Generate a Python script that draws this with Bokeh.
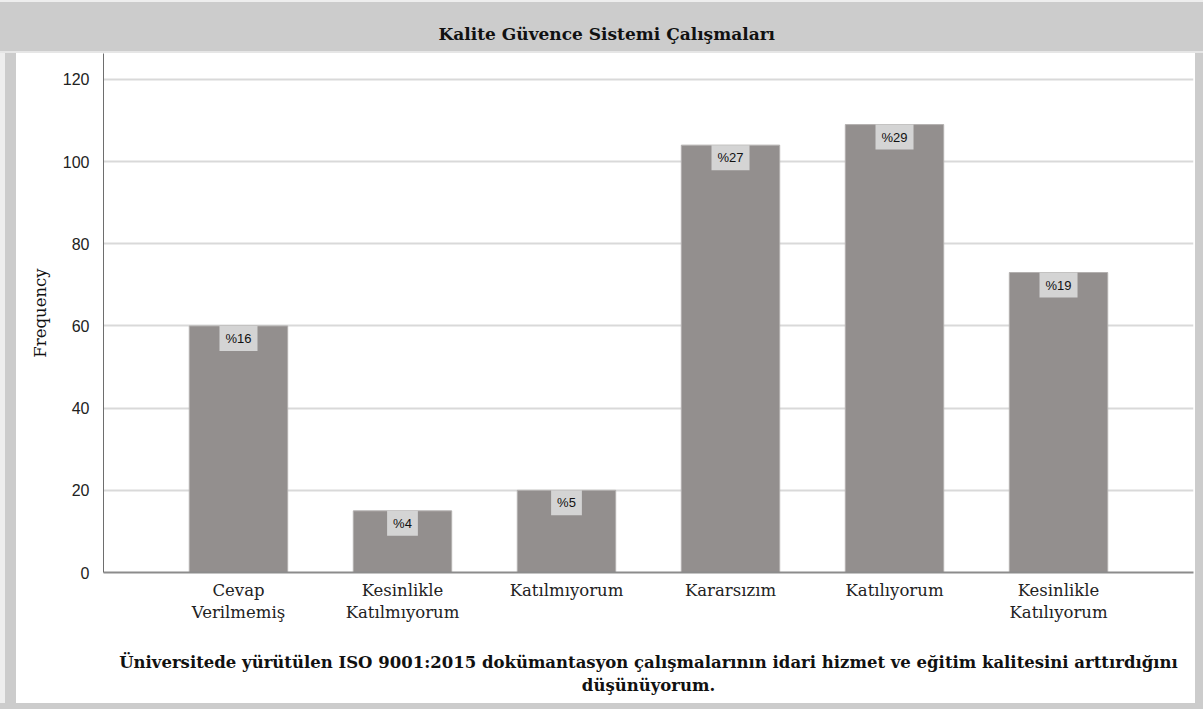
from bokeh.plotting import figure
from bokeh.models import ColumnDataSource, FactorRange, FixedTicker
from bokeh.core.properties import value
from bokeh.embed import file_html
from bokeh.resources import INLINE

categories = ["Cevap\nVerilmemiş", "Kesinlikle\nKatılmıyorum", "Katılmıyorum",
              "Kararsızım", "Katılıyorum", "Kesinlikle\nKatılıyorum"]
counts = [60, 15, 20, 104, 109, 73]
percent_labels = ["%16", "%4", "%5", "%27", "%29", "%19"]
y_ticks = [0, 20, 40, 60, 80, 100, 120]
title_text = "Kalite Güvence Sistemi Çalışmaları"
x_title = ("Üniversitede yürütülen ISO 9001:2015 dokümantasyon çalışmalarının idari hizmet ve eğitim kalitesini arttırdığını\n"
           "düşünüyorum.")
y_title = "Frequency"

src = ColumnDataSource(dict(cat=categories, count=counts, pct=percent_labels))

W, H = 1203, 709
p = figure(width=W, height=H,
           x_range=FactorRange(factors=categories, range_padding=0.323, range_padding_units="absolute"),
           y_range=(0, 126.3),
           output_backend="svg", toolbar_location=None,
           min_border_left=103, min_border_right=10, min_border_top=53, min_border_bottom=137)

p.background_fill_color = "white"
p.border_fill_color = "white"
p.border_fill_alpha = 0
p.outline_line_color = None
p.styles = {
    "background": ("linear-gradient(to bottom, #EEEEEE 0px, #EEEEEE 2px, #CCCCCC 2px, #CCCCCC 51px, #E6E6E6 51px, #E6E6E6 53px, transparent 53px), "
                   "linear-gradient(to top, #CCCCCC 0px, #CCCCCC 6px, transparent 6px), "
                   "linear-gradient(to right, #EEEEEE 0px, #EEEEEE 5px, #CCCCCC 5px, #CCCCCC 16px, #FFFFFF 16px, #FFFFFF 1195px, #CCCCCC 1195px)")
}

p.title.text = title_text
p.title.align = "left"
p.title.offset = 335
p.title.standoff = 19
p.title.text_font = "DejaVu Serif"
p.title.text_font_style = "bold"
p.title.text_font_size = "17px"
p.title.text_color = "#111111"

p.vbar(x="cat", top="count", width=0.6, source=src,
       fill_color="#938F8E", line_color="#B3B0AF", line_width=1)

p.text(x="cat", y="count", text="pct", source=src,
       anchor="top_center", padding=(6, 5),
       background_fill_color="#D4D4D4",
       text_font=value("Liberation Sans"), text_font_size="13px", text_color="#111111")

# axes
p.yaxis.ticker = FixedTicker(ticks=y_ticks)
p.ygrid.ticker = FixedTicker(ticks=y_ticks)
p.ygrid.grid_line_color = "#D9D9D9"
p.ygrid.grid_line_width = 2
p.xgrid.grid_line_color = None

p.yaxis.axis_line_color = "#6E6E6E"
p.yaxis.axis_line_width = 1
p.yaxis.major_tick_line_color = None
p.yaxis.minor_tick_line_color = None
p.yaxis.major_label_text_font = "Liberation Sans"
p.yaxis.major_label_text_font_size = "16px"
p.yaxis.major_label_text_color = "#222222"
p.yaxis.major_label_standoff = 8
p.yaxis.axis_label = y_title
p.yaxis.axis_label_text_font = "DejaVu Serif"
p.yaxis.axis_label_text_font_style = "normal"
p.yaxis.axis_label_text_font_size = "16.5px"
p.yaxis.axis_label_text_color = "#111111"
p.yaxis.axis_label_standoff = 10

p.xaxis.axis_line_color = "#8C8C8C"
p.xaxis.axis_line_width = 2
p.xaxis.major_tick_line_color = None
p.xaxis.minor_tick_line_color = None
p.xaxis.major_label_text_font = "DejaVu Serif"
p.xaxis.major_label_text_font_size = "16.5px"
p.xaxis.major_label_text_color = "#222222"
p.xaxis.major_label_standoff = 2
p.xaxis.axis_label = x_title
p.xaxis.axis_label_text_font = "DejaVu Serif"
p.xaxis.axis_label_text_font_style = "bold"
p.xaxis.axis_label_text_font_size = "16.5px"
p.xaxis.axis_label_text_color = "#111111"
p.xaxis.axis_label_standoff = 28

open("out.html", "w").write(file_html(p, INLINE))
